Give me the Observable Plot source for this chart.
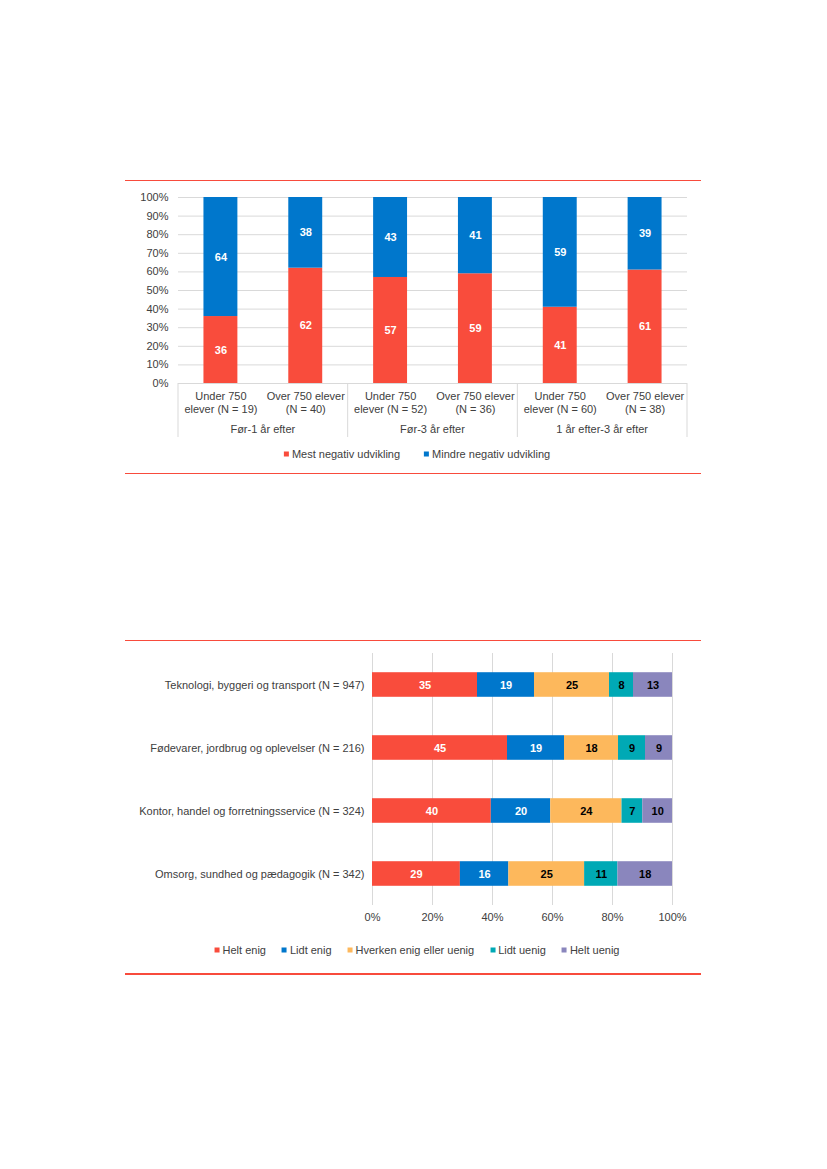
<!DOCTYPE html>
<html>
<head>
<meta charset="utf-8">
<script src="https://cdn.jsdelivr.net/npm/d3@7"></script>
<script src="https://cdn.jsdelivr.net/npm/@observablehq/plot@0.6"></script>
<style>
  body { margin: 0; background: #fff; }
  #page { position: relative; width: 827px; height: 1169px; overflow: hidden; font-family: "Liberation Sans", Arial, sans-serif; }
  .rule { position: absolute; left: 125px; width: 576px; background: #F84B3C; }
  .chart { position: absolute; left: 125px; }
  .legend { position: absolute; transform: translate(-50%, -50%); display: flex; white-space: nowrap; font-size: 11px; color: #404040; line-height: 13px; }
  .legend .item { display: flex; align-items: center; }
  .legend .sw { width: 5px; height: 5px; margin-right: 3px; }
</style>
</head>
<body>
<div id="page">
  <div class="rule" style="top:180px;height:1px;"></div>
  <div id="chart1" class="chart" style="top:185px;"></div>
  <div id="legend1" class="legend" style="left:417px;top:454px;"></div>
  <div class="rule" style="top:473px;height:1px;"></div>

  <div class="rule" style="top:640px;height:1px;"></div>
  <div id="chart2" class="chart" style="top:645px;"></div>
  <div id="legend2" class="legend" style="left:417px;top:950px;"></div>
  <div class="rule" style="top:973px;height:2px;"></div>
</div>
<script>
// ---------- Chart 1 data ----------
const periods = ["Før-1 år efter", "Før-3 år efter", "1 år efter-3 år efter"];
const sizeLabels = [
  "Under 750\nelever (N = 19)", "Over 750 elever\n(N = 40)",
  "Under 750\nelever (N = 52)", "Over 750 elever\n(N = 36)",
  "Under 750\nelever (N = 60)", "Over 750 elever\n(N = 38)"
];
const periodOfBar = [0, 0, 1, 1, 2, 2];
const series1 = ["Mest negativ udvikling", "Mindre negativ udvikling"];
const mestNegativ = [36, 62, 57, 59, 41, 61];
const mindreNegativ = [64, 38, 43, 41, 59, 39];
const colors1 = ["#F94C3C", "#0077CC"];
const yTicks1 = [0, 10, 20, 30, 40, 50, 60, 70, 80, 90, 100];

// ---------- Chart 2 data ----------
const sectors = [
  "Teknologi, byggeri og transport (N = 947)",
  "Fødevarer, jordbrug og oplevelser (N = 216)",
  "Kontor, handel og forretningsservice (N = 324)",
  "Omsorg, sundhed og pædagogik (N = 342)"
];
const answers = ["Helt enig", "Lidt enig", "Hverken enig eller uenig", "Lidt uenig", "Helt uenig"];
const heltEnig = [35, 45, 40, 29];
const lidtEnig = [19, 19, 20, 16];
const hverken = [25, 18, 24, 25];
const lidtUenig = [8, 9, 7, 11];
const heltUenig = [13, 9, 10, 18];
const colors2 = ["#F94C3C", "#0077CC", "#FDB85C", "#00A9B5", "#8A86BD"];
const xTicks2 = [0, 20, 40, 60, 80, 100];

const font = "'Liberation Sans', Arial, sans-serif";
const textColor = "#404040";
const gridColor = "#D9D9D9";

// ---------- Chart 1 ----------
const data1 = sizeLabels.flatMap((c, i) => [
  {cat: c, series: series1[0], value: mestNegativ[i]},
  {cat: c, series: series1[1], value: mindreNegativ[i]}
]);

const p1 = Plot.plot({
  width: 575, height: 253,
  marginLeft: 53, marginRight: 13, marginTop: 12, marginBottom: 55,
  style: {fontFamily: font, fontSize: "11px", color: textColor, background: "transparent"},
  x: {domain: sizeLabels, paddingInner: 0.6, paddingOuter: 0.3, round: false, label: null},
  y: {domain: [0, 100], label: null},
  color: {domain: series1, range: colors1},
  marks: [
    Plot.gridY(yTicks1, {stroke: gridColor, strokeOpacity: 1}),
    Plot.barY(data1, Plot.stackY({x: "cat", y: "value", z: "series", fill: "series"})),
    Plot.text(data1, Plot.stackY({x: "cat", y: "value", z: "series", text: d => String(d.value), fill: "white", fontWeight: "bold", fontSize: 11})),
    Plot.axisY(yTicks1, {tickSize: 0, tickPadding: 10, tickFormat: d => d + "%", fontSize: 11, label: null}),
    Plot.axisX({tickSize: 0, tickPadding: 7, lineHeight: 1.2, fontSize: 11, label: null})
  ]
});

// separators and period labels under the bars, placed with the plot's x scale
(function () {
  const xs = p1.scale("x");
  const step = xs.step, bw = xs.bandwidth;
  const svg = d3.select(p1);
  const y0 = 12 + 186, y1 = 252;
  const bounds = [];
  periods.forEach((p, g) => {
    const keys = sizeLabels.filter((_, i) => periodOfBar[i] === g);
    const first = xs.apply(keys[0]);
    const last = xs.apply(keys[keys.length - 1]) + bw;
    bounds.push(first - step * 0.3);
    if (g === periods.length - 1) bounds.push(last + step * 0.3);
    svg.append("text")
      .attr("x", (first + last) / 2).attr("y", 245.5)
      .attr("text-anchor", "middle").attr("dominant-baseline", "middle")
      .attr("fill", textColor).attr("font-size", 11).attr("font-family", font)
      .text(p);
  });
  bounds.forEach(b => {
    svg.append("line").attr("x1", b).attr("x2", b).attr("y1", y0).attr("y2", y1)
      .attr("stroke", gridColor).attr("stroke-width", 1);
  });
})();
document.getElementById("chart1").appendChild(p1);

// ---------- Chart 2 ----------
const cols2 = [heltEnig, lidtEnig, hverken, lidtUenig, heltUenig];
const data2 = sectors.flatMap((s, i) => answers.map((a, j) => ({sector: s, answer: a, value: cols2[j][i]})));
const whiteLabel = new Set(["Helt enig", "Lidt enig"]);

const p2 = Plot.plot({
  width: 575, height: 285,
  marginLeft: 247, marginRight: 28, marginTop: 8, marginBottom: 25,
  style: {fontFamily: font, fontSize: "11px", color: textColor, background: "transparent"},
  x: {domain: [0, 1], label: null},
  y: {domain: sectors, paddingInner: 0.61, paddingOuter: 0.305, round: false, label: null},
  color: {domain: answers, range: colors2},
  marks: [
    Plot.gridX(xTicks2.map(d => d / 100), {stroke: gridColor, strokeOpacity: 1}),
    Plot.barX(data2, Plot.stackX({x: "value", y: "sector", z: "answer", fill: "answer", offset: "normalize"})),
    Plot.text(data2, Plot.stackX({x: "value", y: "sector", z: "answer", offset: "normalize",
      text: d => whiteLabel.has(d.answer) ? String(d.value) : "", fill: "white", fontWeight: "bold", fontSize: 11})),
    Plot.text(data2, Plot.stackX({x: "value", y: "sector", z: "answer", offset: "normalize",
      text: d => whiteLabel.has(d.answer) ? "" : String(d.value), fill: "#000", fontWeight: "bold", fontSize: 11})),
    Plot.axisY({tickSize: 0, tickPadding: 8, fontSize: 11, label: null}),
    Plot.axisX(xTicks2.map(d => d / 100), {tickSize: 0, tickPadding: 8, fontSize: 11, label: null, tickFormat: d => Math.round(d * 100) + "%"})
  ]
});
document.getElementById("chart2").appendChild(p2);

// ---------- Legends ----------
function legend(id, names, colors, gap) {
  const el = document.getElementById(id);
  names.forEach((n, i) => {
    const item = document.createElement("div");
    item.className = "item";
    if (i > 0) item.style.marginLeft = gap + "px";
    const sw = document.createElement("span");
    sw.className = "sw";
    sw.style.background = colors[i];
    const t = document.createElement("span");
    t.textContent = n;
    item.appendChild(sw); item.appendChild(t);
    el.appendChild(item);
  });
}
legend("legend1", series1, colors1, 24);
legend("legend2", answers, colors2, 16);
</script>
</body>
</html>
